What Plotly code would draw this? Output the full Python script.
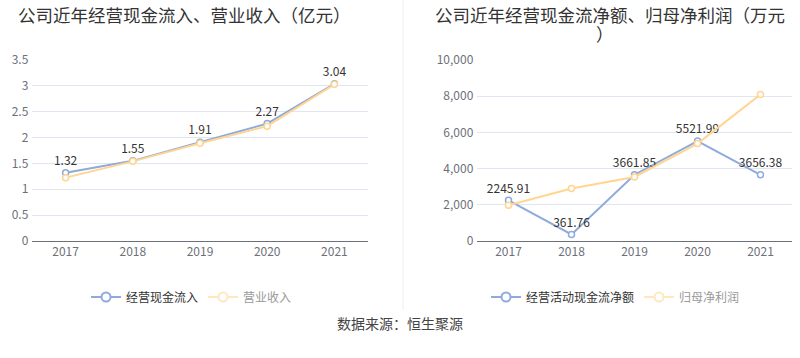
import plotly.graph_objects as go

years = ["2017", "2018", "2019", "2020", "2021"]
cash_inflow = [1.32, 1.55, 1.91, 2.27, 3.04]
revenue = [1.225, 1.54, 1.89, 2.22, 3.03]
net_cash = [2245.91, 361.76, 3661.85, 5521.99, 3656.38]
net_profit = [1980, 2900, 3540, 5380, 8090]

left_title = "公司近年经营现金流入、营业收入（亿元）"
right_title_1 = "公司近年经营现金流净额、归母净利润（万元"
right_title_2 = "）"
source = "数据来源：恒生聚源"

BLUE = "#8FAADC"
ORANGE = "#FFD591"
FONT = "Noto Sans CJK SC, Noto Sans, sans-serif"

fig = go.Figure()

def add_series(x, y, color, name, xa, ya, legend, labels=None, faded=False):
    fig.add_trace(go.Scatter(
        x=x, y=y, mode="lines+markers+text" if labels else "lines+markers",
        text=labels, textposition="top center",
        textfont=dict(color="#333", size=12, family=FONT),
        line=dict(color=color, width=2),
        marker=dict(symbol="circle", size=6, color="white",
                    line=dict(color=color, width=1.5)),
        name=name, xaxis=xa, yaxis=ya, showlegend=False, hoverinfo="skip",
        cliponaxis=False,
    ))
    lc = "#FFE7C2" if faded else color
    fig.add_trace(go.Scatter(
        x=[None], y=[None], mode="lines+markers",
        line=dict(color=lc, width=2),
        marker=dict(symbol="circle", size=9, color="white",
                    line=dict(color=lc, width=2)),
        name=(f"<span style='color:#999'>{name}</span>" if faded else name),
        xaxis=xa, yaxis=ya, legend=legend, showlegend=True,
    ))

add_series(years, cash_inflow, BLUE, "经营现金流入", "x", "y", "legend",
           labels=[f"{v:.2f}" for v in cash_inflow])
add_series(years, revenue, ORANGE, "营业收入", "x", "y", "legend", faded=True)
add_series(years, net_cash, BLUE, "经营活动现金流净额", "x2", "y2", "legend2",
           labels=[f"{v:.2f}" for v in net_cash])
add_series(years, net_profit, ORANGE, "归母净利润", "x2", "y2", "legend2", faded=True)

ydom = [(358 - 241) / 358, (358 - 60) / 358]
axis_common = dict(showgrid=False, showline=True, linecolor="#6E7079", linewidth=1,
                   tickfont=dict(color="#6E7079", size=12, family=FONT),
                   ticks="", fixedrange=True, type="category", automargin=False)
yaxis_common = dict(showgrid=True, gridcolor="#E0E6F1", gridwidth=1, zeroline=False,
                    showline=False, tickfont=dict(color="#6E7079", size=12, family=FONT),
                    ticks="", fixedrange=True, automargin=False)

leg_common = dict(orientation="h", xanchor="left", yanchor="middle",
                  xref="container", yref="container",
                  font=dict(size=12, color="#333", family=FONT), itemwidth=30,
                  bgcolor="rgba(0,0,0,0)")

fig.update_layout(
    width=800, height=358,
    margin=dict(l=0, r=0, t=0, b=0, autoexpand=False),
    paper_bgcolor="white", plot_bgcolor="white",
    font=dict(family=FONT),
    xaxis=dict(domain=[32 / 800, 368 / 800], anchor="y", range=[-0.5, 4.5], **axis_common),
    yaxis=dict(domain=ydom, anchor="x", range=[0, 3.5], dtick=0.5, ticksuffix=" ", **yaxis_common),
    xaxis2=dict(domain=[477 / 800, 792 / 800], anchor="y2", range=[-0.5, 4.5], **axis_common),
    yaxis2=dict(domain=ydom, anchor="x2", range=[0, 10000], dtick=2000,
                tickformat=",", ticksuffix=" ", **yaxis_common),
    legend=dict(x=86 / 800, y=(358 - 297) / 358, **leg_common),
    legend2=dict(x=486 / 800, y=(358 - 297) / 358, **leg_common),
    showlegend=True,
)

fig.add_annotation(text=left_title, x=184 / 800, y=1 - 14 / 358, xref="paper", yref="paper",
                   xanchor="center", yanchor="middle", showarrow=False,
                   font=dict(size=17.5, color="#333", family=FONT))
fig.add_annotation(text=right_title_1, x=610 / 800, y=1 - 14 / 358, xref="paper", yref="paper",
                   xanchor="center", yanchor="middle", showarrow=False,
                   font=dict(size=17.5, color="#333", family=FONT))
fig.add_annotation(text=right_title_2, x=605 / 800, y=1 - 33 / 358, xref="paper", yref="paper",
                   xanchor="center", yanchor="middle", showarrow=False,
                   font=dict(size=17.5, color="#333", family=FONT))
fig.add_annotation(text=source, x=0.5, y=(358 - 323) / 358, xref="paper", yref="paper",
                   xanchor="center", yanchor="middle", showarrow=False,
                   font=dict(size=14, color="#444", family=FONT))
fig.add_shape(type="line", xref="paper", yref="paper", x0=403 / 800, x1=403 / 800,
              y0=(358 - 310) / 358, y1=1, line=dict(color="#EEEEEE", width=1))

fig.write_html("out.html", config={"displayModeBar": False, "staticPlot": True},
               post_script="document.body.style.margin='0';document.body.style.overflow='hidden';")
